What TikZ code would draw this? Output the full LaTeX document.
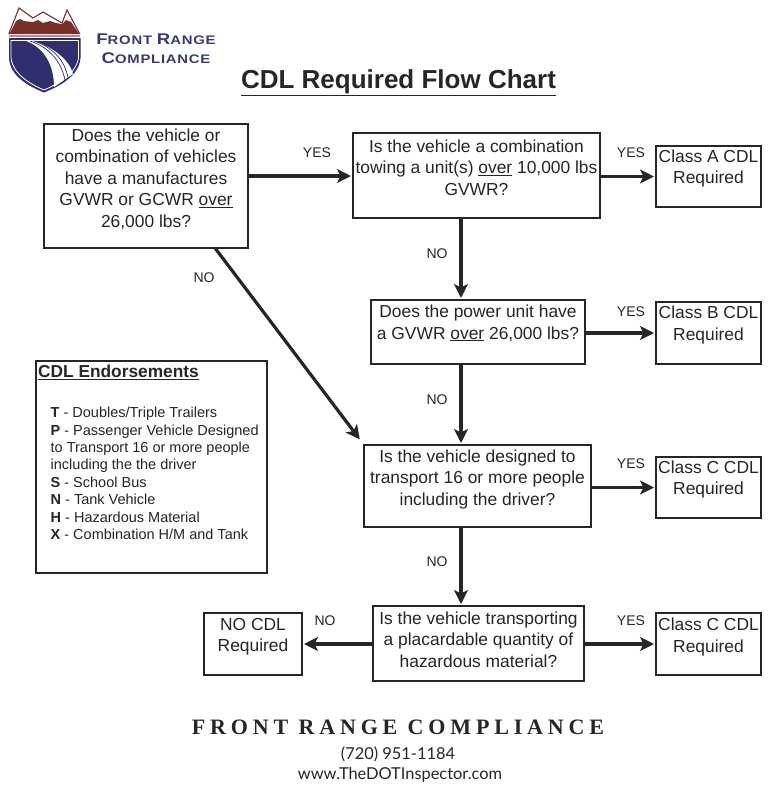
\documentclass[tikz,border=0pt]{standalone}
\usepackage{fontspec}
\setmainfont{Liberation Sans}
\newfontfamily\serifbrand[LetterSpace=22]{Liberation Serif}
\newfontfamily\contactfont{Lato}
\newfontfamily\logofont[LetterSpace=6,FakeStretch=1.2]{Liberation Sans}
\usetikzlibrary{arrows.meta}
\definecolor{inkc}{HTML}{262626}
\definecolor{navyc}{HTML}{2F2E6E}
\definecolor{redc}{HTML}{7A2F28}
\definecolor{logotxt}{HTML}{3A3A72}
\tikzset{
  flowbox/.style={draw=inkc,line width=1.6pt,outer sep=0pt,align=center,inner sep=0pt,text=inkc,font=\fontsize{17.4}{21.5}\selectfont},
  arrowline/.style={draw=inkc,line width=3.2pt,shorten >=2pt,-{Stealth[length=14pt,width=14pt,inset=3.5pt]}},
  edgetext/.style={text=inkc,font=\fontsize{14}{16}\selectfont,inner sep=0pt},
}
\newcommand{\boxat}[7][]{\node[flowbox,minimum width=#5 pt-#3 pt,minimum height=#6 pt-#4 pt,anchor=north west,#1] (#2) at (#3,#4) {#7};}
\begin{document}
\begin{tikzpicture}[x=1pt,y=-1pt]
\useasboundingbox[fill=white] (0,0) rectangle (768,793);
% logo
\draw[redc,line width=1.1pt,line join=miter,fill=white] (9,33.5) -- (19,8) -- (33,18) -- (43,12) -- (62,23) -- (67,10) -- (79.5,33.5) -- cycle;
\fill[redc] (10,33) -- (16,21) -- (20,19) -- (24,21) -- (33,22) -- (38,20) -- (43,23) -- (50,21) -- (56,23) -- (62,24) -- (66,20) -- (71,22) -- (78.5,33) -- cycle;
\fill[redc!55!white] (9,34.5) rectangle (80,37);
\fill[navyc] (9,38) -- (80.5,38) -- (80.5,58) .. controls (79,76) and (60,86) .. (44,92.5) .. controls (28,86) and (10,76) .. (9,58) -- cycle;
\draw[white,line width=.8pt] (11,40.5) -- (78.5,40.5) -- (78.5,58) .. controls (76,74) and (58,84) .. (44,90) .. controls (30,84) and (13,74) .. (11,58) -- cycle;
\fill[white] (23,40) .. controls (38,44) and (54,58) .. (54,87) -- (73,74) .. controls (70,60) and (50,44) .. (29,40) -- cycle;
\draw[navyc,line width=.7pt] (30,41) .. controls (48,47) and (61,60) .. (65,80);
\draw[navyc,line width=.7pt] (34,41) .. controls (52,47) and (65,60) .. (68,78);
% logo text
\node[text=logotxt,inner sep=0pt,font=\logofont\bfseries] (logoa) at (156,39) {\fontsize{15.5}{15}\selectfont F\fontsize{12.4}{15}\selectfont RONT \fontsize{15.5}{15}\selectfont R\fontsize{12.4}{15}\selectfont ANGE};
\node[text=logotxt,inner sep=0pt,font=\logofont\bfseries] (logob) at (156,58) {\fontsize{15.5}{15}\selectfont C\fontsize{12.4}{15}\selectfont OMPLIANCE};
% title
\node[text=inkc,inner sep=0pt,font=\fontsize{26}{28}\selectfont\bfseries] (title) at (398.5,83) {\underline{CDL Required Flow Chart}};
% boxes
\boxat[text depth=16pt]{q1}{44}{124}{248}{248}{Does the vehicle or\\combination of vehicles\\have a manufactures\\GVWR or GCWR \underline{over}\\26,000 lbs?}
\boxat[text depth=16pt]{q2}{353}{133}{600}{218}{Is the vehicle a combination\\towing a unit(s) \underline{over} 10,000 lbs\\GVWR?}
\boxat[text depth=20pt]{q3}{371}{300}{585}{364}{Does the power unit have\\a GVWR \underline{over} 26,000 lbs?}
\boxat[text depth=17pt]{q4}{364}{445}{591}{527}{Is the vehicle designed to\\transport 16 or more people\\including the driver?}
\boxat[text depth=8pt]{q5}{373}{606}{584}{681}{Is the vehicle transporting\\a placardable quantity of\\hazardous material?}
\boxat[text depth=20pt]{ra}{656}{146}{761}{207}{Class A CDL\\Required}
\boxat[text depth=20pt]{rb}{656}{302}{761}{364}{Class B CDL\\Required}
\boxat[text depth=20pt]{rc}{656}{457}{761}{518}{Class C CDL\\Required}
\boxat[text depth=18pt]{rd}{656}{613}{761}{675}{Class C CDL\\Required}
\boxat[text depth=18pt]{rn}{204}{613}{302}{675}{NO CDL\\Required}
% connectors
\coordinate (s1) at (248,176);
\draw[arrowline] (s1) -- (q2.west |- s1);
\draw[arrowline] (q2.east |- ra.west) -- (ra.west);
\coordinate (s3) at (461,218);
\draw[arrowline] (s3) -- (s3 |- q3.north);
\coordinate (s4) at (461,364);
\draw[arrowline] (s4) -- (s4 |- q4.north);
\coordinate (s5) at (461,527);
\draw[arrowline] (s5) -- (s5 |- q5.north);
\draw[arrowline] (q3.east |- rb.west) -- (rb.west);
\draw[arrowline] (q4.east |- rc.west) -- (rc.west);
\draw[arrowline] (q5.east |- rd.west) -- (rd.west);
\draw[arrowline] (q5.west |- rn.east) -- (rn.east);
\coordinate (d1) at (215,248);
\coordinate (d2) at (361,441);
\draw[arrowline] (d1) -- (d2);
% labels
\node[edgetext] (l1) at (317,153) {YES};
\node[edgetext] (l2) at (631,153) {YES};
\node[edgetext] (l3) at (631,312) {YES};
\node[edgetext] (l4) at (631,464) {YES};
\node[edgetext] (l5) at (631,621) {YES};
\node[edgetext] (l6) at (437,254) {NO};
\node[edgetext] (l7) at (437,400) {NO};
\node[edgetext] (l8) at (437,562) {NO};
\node[edgetext] (l9) at (325,621) {NO};
\node[edgetext] (l10) at (204,278) {NO};
% endorsements
\node[draw=inkc,line width=1.6pt,outer sep=0pt,minimum width=231pt,minimum height=212pt,anchor=north west,inner sep=0pt] (endo) at (36,361) {};
\node[anchor=west,inner sep=0pt,text=inkc,font=\fontsize{17.3}{18}\selectfont\bfseries] (endot) at (38,372.5) {\underline{CDL Endorsements}};
\node[anchor=north west,inner sep=0pt,align=left,text=inkc,font=\fontsize{14.5}{17.4}\selectfont] (endob) at (50.5,407) {\textbf{T} - Doubles/Triple Trailers\\\textbf{P} - Passenger Vehicle Designed\\to Transport 16 or more people\\including the the driver\\\textbf{S} - School Bus\\\textbf{N} - Tank Vehicle\\\textbf{H} - Hazardous Material\\\textbf{X} - Combination H/M and Tank};
% footer
\node[text=inkc,inner sep=0pt,font=\serifbrand\bfseries\fontsize{22}{24}\selectfont] (brand) at (398,727) {FRONT RANGE COMPLIANCE};
\node[text=inkc,inner sep=0pt,font=\contactfont\fontsize{16.4}{20}\selectfont] (phone) at (398,754) {(720) 951-1184};
\node[text=inkc,inner sep=0pt,font=\contactfont\fontsize{16.4}{20}\selectfont] (web) at (400,775) {www.TheDOTInspector.com};
\end{tikzpicture}
\end{document}
